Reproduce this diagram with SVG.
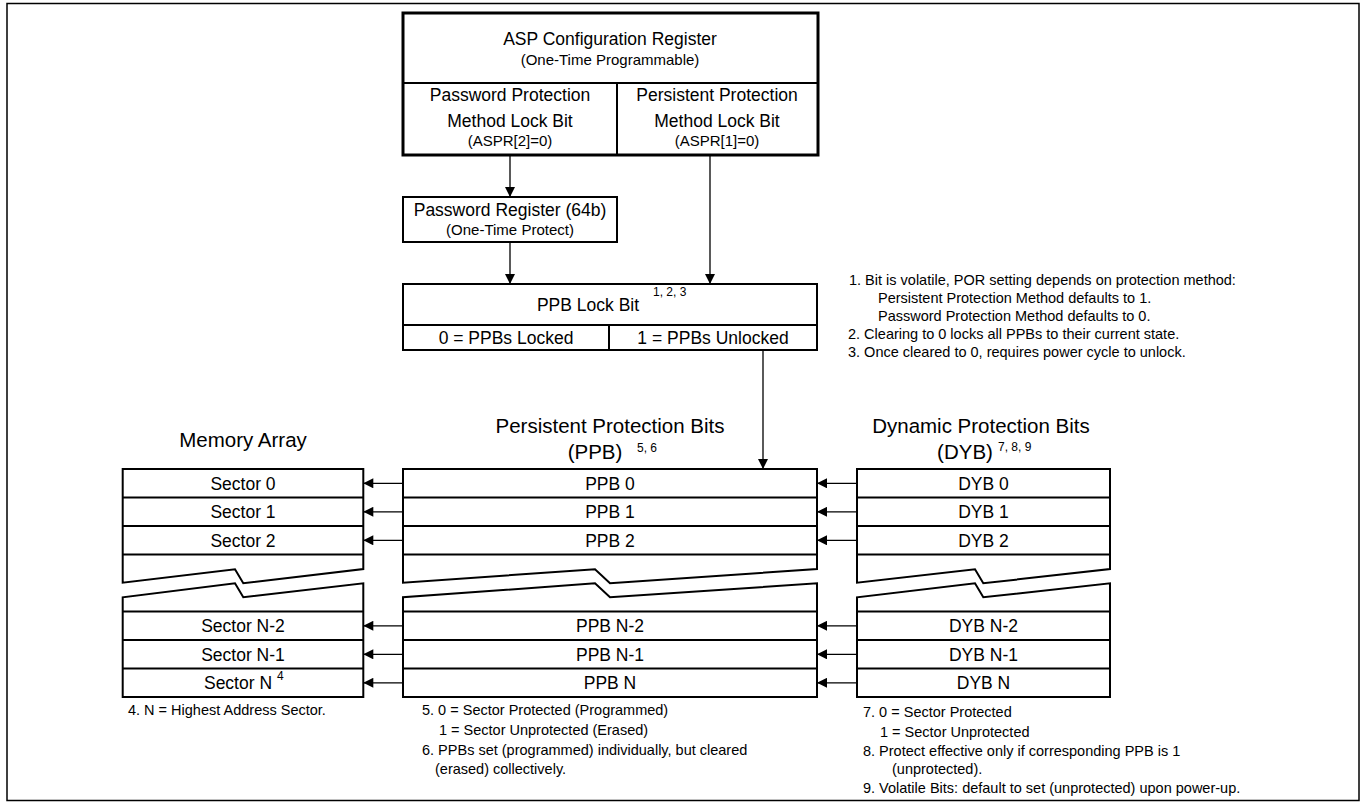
<svg xmlns="http://www.w3.org/2000/svg" width="1367" height="805" viewBox="0 0 1367 805">
<style>
text{font-family:"Liberation Sans",Arial,sans-serif;fill:#000}
.m{font-size:17.5px;text-anchor:middle}
.s{font-size:15px;text-anchor:middle}
.h{font-size:20.5px;text-anchor:middle}
.n{font-size:14.5px}
.sup{font-size:12px}
.box{fill:#fff;stroke:#000;stroke-width:2}
.thick{fill:#fff;stroke:#000;stroke-width:3}
.ln{fill:none;stroke:#000;stroke-width:2}
.con{fill:none;stroke:#000;stroke-width:1.3;marker-end:url(#ah)}
</style>
<defs>
<marker id="ah" viewBox="0 0 10 10" refX="10" refY="5" markerWidth="11" markerHeight="10" markerUnits="userSpaceOnUse" orient="auto">
<path d="M0,0 L10,5 L0,10 z" fill="#000"/>
</marker>
</defs>
<rect x="7" y="3.5" width="1352" height="797" fill="#fff" stroke="#000" stroke-width="1.5"/>

<g id="asp-config">
<rect class="thick" x="403" y="13" width="415" height="142"/>
<line class="ln" x1="403" y1="83" x2="818" y2="83"/>
<line class="ln" x1="617" y1="83" x2="617" y2="155"/>
<text class="m" x="610" y="45">ASP Configuration Register</text>
<text class="s" x="610" y="65">(One-Time Programmable)</text>
<text class="m" x="510" y="101">Password Protection</text>
<text class="m" x="510" y="127">Method Lock Bit</text>
<text class="s" x="510" y="146">(ASPR[2]=0)</text>
<text class="m" x="717" y="101">Persistent Protection</text>
<text class="m" x="717" y="127">Method Lock Bit</text>
<text class="s" x="717" y="146">(ASPR[1]=0)</text>
</g>

<g id="password-register">
<rect class="box" x="403" y="197" width="214" height="45"/>
<text class="m" x="510" y="216">Password Register (64b)</text>
<text class="s" x="510" y="235">(One-Time Protect)</text>
</g>

<g id="ppb-lock-bit">
<rect class="box" x="403" y="284" width="414" height="66"/>
<line class="ln" x1="403" y1="325" x2="817" y2="325"/>
<line class="ln" x1="609" y1="325" x2="609" y2="350"/>
<text class="m" x="588" y="311">PPB Lock Bit</text>
<text class="sup" x="653" y="296">1, 2, 3</text>
<text class="m" x="506" y="344">0 = PPBs Locked</text>
<text class="m" x="713" y="344">1 = PPBs Unlocked</text>
</g>

<g id="notes-lock">
<text class="n" x="849" y="285">1. Bit is volatile, POR setting depends on protection method:</text>
<text class="n" x="878" y="303">Persistent Protection Method defaults to 1.</text>
<text class="n" x="878" y="321">Password Protection Method defaults to 0.</text>
<text class="n" x="848" y="339">2. Clearing to 0 locks all PPBs to their current state.</text>
<text class="n" x="848" y="357">3. Once cleared to 0, requires power cycle to unlock.</text>
</g>

<g id="memory-array">
<text class="h" x="243" y="447">Memory Array</text>
<path class="box" d="M122.7,469 H363.3 V569 L243.3,583.3 L235,569.3 L122.7,582.7 Z"/>
<line class="ln" x1="122.7" y1="497.5" x2="363.3" y2="497.5"/>
<line class="ln" x1="122.7" y1="526" x2="363.3" y2="526"/>
<line class="ln" x1="122.7" y1="554.5" x2="363.3" y2="554.5"/>
<path class="box" d="M122.7,697 V597.3 L235,583.3 L243.3,597.3 L363.3,583.3 V697 Z"/>
<line class="ln" x1="122.7" y1="611.5" x2="363.3" y2="611.5"/>
<line class="ln" x1="122.7" y1="640" x2="363.3" y2="640"/>
<line class="ln" x1="122.7" y1="668.5" x2="363.3" y2="668.5"/>
<text class="m" x="243" y="489.5">Sector 0</text>
<text class="m" x="243" y="518">Sector 1</text>
<text class="m" x="243" y="546.5">Sector 2</text>
<text class="m" x="243" y="632">Sector N-2</text>
<text class="m" x="243" y="660.5">Sector N-1</text>
<text class="m" x="238" y="689">Sector N</text>
<text class="sup" x="277" y="680">4</text>
<text class="n" x="128" y="715">4. N = Highest Address Sector.</text>
</g>

<g id="ppb">
<text class="h" x="610" y="433">Persistent Protection Bits</text>
<text class="h" x="595" y="459">(PPB)</text>
<text class="sup" x="637" y="452">5, 6</text>
<path class="box" d="M403,469 H817 V569 L610,583.3 L595,569.3 L403,582.7 Z"/>
<line class="ln" x1="403" y1="497.5" x2="817" y2="497.5"/>
<line class="ln" x1="403" y1="526" x2="817" y2="526"/>
<line class="ln" x1="403" y1="554.5" x2="817" y2="554.5"/>
<path class="box" d="M403,697 V597.3 L595,583.3 L610,597.3 L817,583.3 V697 Z"/>
<line class="ln" x1="403" y1="611.5" x2="817" y2="611.5"/>
<line class="ln" x1="403" y1="640" x2="817" y2="640"/>
<line class="ln" x1="403" y1="668.5" x2="817" y2="668.5"/>
<text class="m" x="610" y="489.5">PPB 0</text>
<text class="m" x="610" y="518">PPB 1</text>
<text class="m" x="610" y="546.5">PPB 2</text>
<text class="m" x="610" y="632">PPB N-2</text>
<text class="m" x="610" y="660.5">PPB N-1</text>
<text class="m" x="610" y="689">PPB N</text>
<text class="n" x="422" y="715">5. 0 = Sector Protected (Programmed)</text>
<text class="n" x="439" y="735">1 = Sector Unprotected (Erased)</text>
<text class="n" x="422" y="755">6. PPBs set (programmed) individually, but cleared</text>
<text class="n" x="435" y="774">(erased) collectively.</text>
</g>

<g id="dyb">
<text class="h" x="981" y="433">Dynamic Protection Bits</text>
<text class="h" x="965" y="459">(DYB)</text>
<text class="sup" x="998" y="451">7, 8, 9</text>
<path class="box" d="M857,469 H1110 V569 L983.3,583.3 L975,569.3 L857,582.7 Z"/>
<line class="ln" x1="857" y1="497.5" x2="1110" y2="497.5"/>
<line class="ln" x1="857" y1="526" x2="1110" y2="526"/>
<line class="ln" x1="857" y1="554.5" x2="1110" y2="554.5"/>
<path class="box" d="M857,697 V597.3 L975,583.3 L983.3,597.3 L1110,583.3 V697 Z"/>
<line class="ln" x1="857" y1="611.5" x2="1110" y2="611.5"/>
<line class="ln" x1="857" y1="640" x2="1110" y2="640"/>
<line class="ln" x1="857" y1="668.5" x2="1110" y2="668.5"/>
<text class="m" x="983.5" y="489.5">DYB 0</text>
<text class="m" x="983.5" y="518">DYB 1</text>
<text class="m" x="983.5" y="546.5">DYB 2</text>
<text class="m" x="983.5" y="632">DYB N-2</text>
<text class="m" x="983.5" y="660.5">DYB N-1</text>
<text class="m" x="983.5" y="689">DYB N</text>
<text class="n" x="863" y="717">7. 0 = Sector Protected</text>
<text class="n" x="880" y="737">1 = Sector Unprotected</text>
<text class="n" x="863" y="756">8. Protect effective only if corresponding PPB is 1</text>
<text class="n" x="892" y="774">(unprotected).</text>
<text class="n" x="863" y="793">9. Volatile Bits: default to set (unprotected) upon power-up.</text>
</g>

<g id="connectors">
<line class="con" x1="510" y1="156" x2="510" y2="197"/>
<line class="con" x1="510" y1="243" x2="510" y2="284"/>
<line class="con" x1="710" y1="156" x2="710" y2="284"/>
<line class="con" x1="763" y1="350" x2="763" y2="469"/>
<line class="con" x1="403" y1="483.3" x2="363.3" y2="483.3"/>
<line class="con" x1="403" y1="511.8" x2="363.3" y2="511.8"/>
<line class="con" x1="403" y1="540.3" x2="363.3" y2="540.3"/>
<line class="con" x1="403" y1="625.8" x2="363.3" y2="625.8"/>
<line class="con" x1="403" y1="654.3" x2="363.3" y2="654.3"/>
<line class="con" x1="403" y1="682.8" x2="363.3" y2="682.8"/>
<line class="con" x1="857" y1="483.3" x2="817" y2="483.3"/>
<line class="con" x1="857" y1="511.8" x2="817" y2="511.8"/>
<line class="con" x1="857" y1="540.3" x2="817" y2="540.3"/>
<line class="con" x1="857" y1="625.8" x2="817" y2="625.8"/>
<line class="con" x1="857" y1="654.3" x2="817" y2="654.3"/>
<line class="con" x1="857" y1="682.8" x2="817" y2="682.8"/>
</g>
</svg>
